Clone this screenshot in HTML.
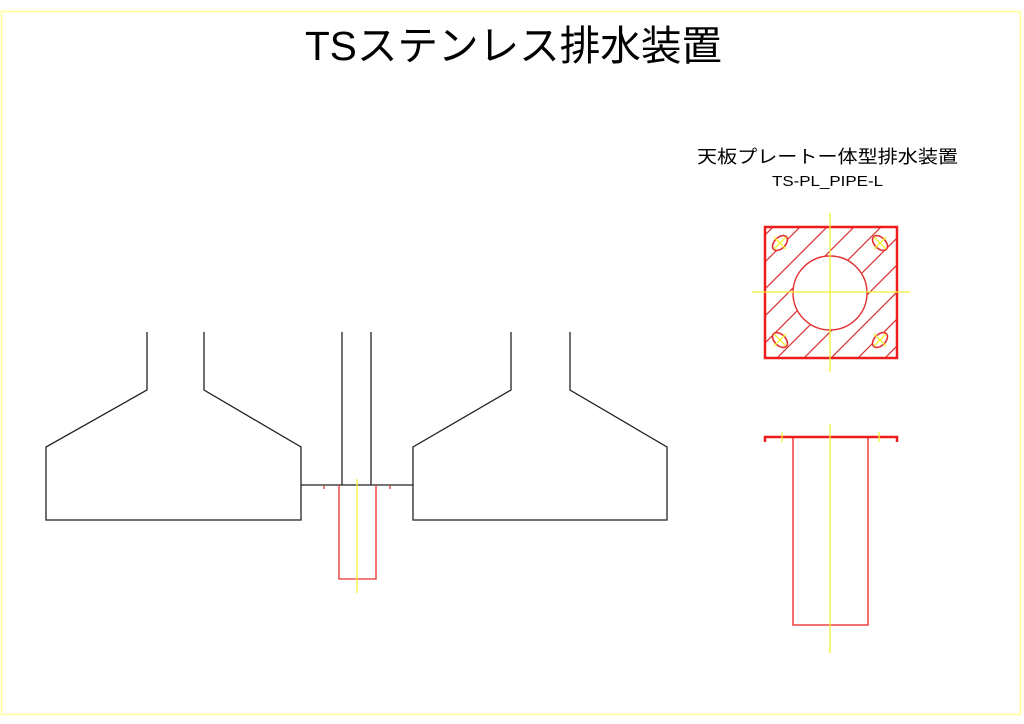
<!DOCTYPE html>
<html><head><meta charset="utf-8"><style>html,body{margin:0;padding:0;background:#fff}svg{display:block}</style></head>
<body>
<svg width="1024" height="724" viewBox="0 0 1024 724" xmlns="http://www.w3.org/2000/svg" font-family="'Liberation Sans','Noto Sans CJK JP',sans-serif">
<rect x="1.5" y="11.5" width="1019" height="703" fill="none" stroke="#ffff99" stroke-width="1.5"/>
<text x="305" y="60" font-size="41" textLength="417" lengthAdjust="spacingAndGlyphs" fill="#000">TSステンレス排水装置</text>
<text x="697" y="163" font-size="18" textLength="261" lengthAdjust="spacingAndGlyphs" fill="#000">天板プレートー体型排水装置</text>
<text x="772" y="186" font-size="15" textLength="111" lengthAdjust="spacingAndGlyphs" fill="#000">TS-PL_PIPE-L</text>
<g fill="none" stroke="#222" stroke-width="1.3">
<polyline points="147,332 147,390 46,447 46,520 301,520 301,447 204,390 204,332"/>
<polyline points="511,332 511,390 413,447 413,520 667,520 667,447 570,390 570,332"/>
<line x1="342" y1="332" x2="342" y2="485"/><line x1="371" y1="332" x2="371" y2="485"/>
<line x1="301" y1="485" x2="413" y2="485"/>
</g>
<g stroke="#e53030" stroke-width="1.3" fill="none">
<polyline points="339,485 339,579 376,579 376,485"/>
<line x1="324" y1="486" x2="324" y2="489"/><line x1="390" y1="486" x2="390" y2="489"/>
</g>
<line x1="357" y1="479" x2="357" y2="593" stroke="#f0f030" stroke-width="1.3"/>
<defs><clipPath id="c"><rect x="765" y="227" width="132" height="131"/></clipPath></defs>
<g clip-path="url(#c)" stroke="#d83030" stroke-width="1.2">
<path d="M640,360 L780,220 M667,360 L807,220 M694,360 L834,220 M721,360 L861,220 M748,360 L888,220 M775,360 L915,220 M802,360 L942,220 M829,360 L969,220 M856,360 L996,220 M883,360 L1023,220"/>
</g>
<circle cx="830" cy="293" r="37" fill="#fff" stroke="#e53030" stroke-width="1.4"/>
<rect x="765" y="227" width="132" height="131" fill="none" stroke="#ee1c1c" stroke-width="2.5"/>
<g fill="#fff" stroke="#e53030" stroke-width="1.6">
<ellipse cx="780" cy="243" rx="9" ry="5.5" transform="rotate(-45 780 243)"/>
<ellipse cx="880" cy="243" rx="9" ry="5.5" transform="rotate(45 880 243)"/>
<ellipse cx="780" cy="340" rx="9" ry="5.5" transform="rotate(45 780 340)"/>
<ellipse cx="880" cy="340" rx="9" ry="5.5" transform="rotate(-45 880 340)"/>
</g>
<g stroke="#f0f030" stroke-width="1.3">
<line x1="752" y1="292" x2="910" y2="292"/><line x1="830" y1="213" x2="830" y2="372"/>
<path d="M774,237 L786,249 M786,237 L774,249 M874,237 L886,249 M886,237 L874,249 M774,334 L786,346 M786,334 L774,346 M874,334 L886,346 M886,334 L874,346"/>
</g>
<g fill="none" stroke="#ee1c1c">
<polyline points="765,442 765,437 897,437 897,442" stroke-width="2.5"/>
<polyline points="793,437 793,625 868,625 868,437" stroke-width="1.3"/>
</g>
<g stroke="#f0f030" stroke-width="1.3">
<line x1="830" y1="424" x2="830" y2="653"/><line x1="782" y1="432" x2="782" y2="442"/><line x1="879" y1="432" x2="879" y2="442"/>
</g>
</svg>
</body></html>
